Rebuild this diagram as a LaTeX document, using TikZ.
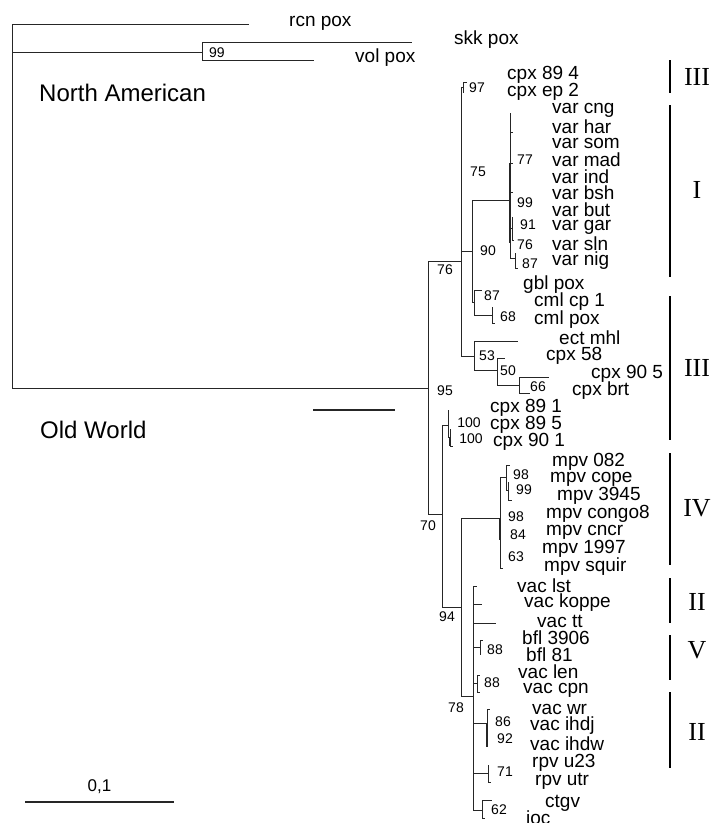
\documentclass[tikz,border=0pt]{standalone}
\usepackage{fontspec}
\setmainfont{Liberation Sans}
\newfontfamily\romanfont{Liberation Serif}
\usetikzlibrary{positioning}
\tikzset{
  br/.style={draw=black!85, line width=0.8pt},
  brthick/.style={br, line width=1.8pt},
  leaf/.style={anchor=west, inner sep=0pt, font=\fontsize{19}{19}\selectfont},
  bs/.style={inner sep=0pt, font=\fontsize{14}{14}\selectfont},
  region/.style={anchor=west, inner sep=0pt, font=\fontsize{24}{24}\selectfont},
  cladebar/.style={draw=black, line width=2.6pt},
  roman/.style={inner sep=0pt, font=\romanfont\fontsize{26}{26}\selectfont},
}

\begin{document}
\begin{tikzpicture}[x=1pt, y=-1pt]
  \useasboundingbox (0,0) rectangle (713,823);
  % inner nodes of the tree
  \foreach \n/\x/\y in {root/12/200, na/202/52, n95/428/388, n76/461/261,
      n97/463/87, n90/472/251, var/510/200, v91/512/228, v87/515/258,
      n87/474/302, n68/492/315, n53/474/356, n50/497/370, n66/519/385,
      n70/442/514, nA/448/425, nB/450/437, n94/461/607, mpv/500/518,
      mU/506/477, mU2/508/490, n78/473/696, bfl/480/647, len/477/683,
      wr/487/723, rpv/488/773, ctg/482/810}
    \coordinate (\n) at (\x,\y);
  % tips
  \foreach \n/\x/\y in {rcn/249/24, skk/412/42, vol/314/60,
      c894/467/82, cep2/464/92,
      vt1/510/113, vt2/513/132, vt3/513/163, vt4/513/192, vth/510/243,
      vt5/512/217, vt6/514/240, vt7/515/253, vt8/518/268,
      gbl/482/290, cml1/492/307, cml2/495/323,
      ect/518/341, c58/505/358, c905/549/377, brt/530/393,
      c891/448/410, c895/450/429, c901/453/446,
      m082/510/465, mcope/508/482, m3945/512/500, mth/500/540, msq/503/568,
      lst/477/586, kop/482/604, tt/496/623,
      b3906/483/640, b81/480/655, vlen/480/675, vcpn/480/692,
      vwr/490/709, vihdw/487/747, u23/488/765, utr/491/782,
      ctgv/492/800, joc/485/818}
    \coordinate (\n) at (\x,\y);

  \foreach \a/\b in {root/rcn, root/na, root/n95, na/skk, na/vol,
      n95/n76, n95/n70, n76/n97, n76/n90, n76/n53, n97/c894, n97/cep2,
      n90/var, n90/n87, var/vt1, var/vt2, var/vt3, var/vt4, var/v91, var/v87,
      v91/vt5, v91/vt6, v87/vt7, v87/vt8,
      n87/gbl, n87/n68, n68/cml1, n68/cml2,
      n53/ect, n53/n50, n50/c58, n50/n66, n66/c905, n66/brt,
      n70/nA, n70/n94, nA/c891, nA/nB, nB/c895, nB/c901,
      n94/mpv, n94/n78, mpv/mU, mpv/msq, mU/m082, mU/mU2, mU2/mcope, mU2/m3945,
      n78/lst, n78/kop, n78/tt, n78/bfl, n78/len, n78/wr, n78/rpv, n78/ctg,
      bfl/b3906, bfl/b81, len/vlen, len/vcpn, wr/vwr, wr/vihdw,
      rpv/u23, rpv/utr, ctg/ctgv, ctg/joc}
    \draw[br] (\a) |- (\b);
  \foreach \a/\b in {var/vt3, var/vth, nB/c901, mpv/mth, wr/vihdw}
    \draw[brthick] (\a) -- (\a |- \b);

  % taxa
  \foreach [count=\i] \t/\x/\y in {rcn pox/289/23, skk pox/454/40, vol pox/355/58,
      cpx 89 4/507/75, cpx ep 2/507/92,
      var cng/552/110, var har/552/127, var som/552/143, var mad/552/160,
      var ind/552/177, var bsh/552/193, var but/552/210, var gar/552/227,
      var sln/552/244, var nig/552/261,
      gbl pox/523/285, cml cp 1/534/302, cml pox/534/320, ect mhl/559/338,
      cpx 58/546/356, cpx 90 5/591/374, cpx brt/572/391,
      cpx 89 1/490/408, cpx 89 5/490/425, cpx 90 1/493/442,
      mpv 082/552/462, mpv cope/550/479, mpv 3945/557/496, mpv congo8/546/514,
      mpv cncr/546/532, mpv 1997/542/549, mpv squir/544/567,
      vac lst/517/586, vac koppe/524/603, vac tt/537/621,
      bfl 3906/522/638, bfl 81/526/655, vac len/518/672, vac cpn/523/690,
      vac wr/532/709, vac ihdj/530/726, vac ihdw/530/744,
      rpv u23/532/763, rpv utr/535/781, ctgv/545/803, joc/526/820}
    \node[leaf] (tx\i) at (\x,\y) {\t};

  % bootstrap values
  \foreach [count=\i] \t/\x/\y in {99/217/53, 97/477/88, 75/478/172, 77/525/160,
      99/525/203, 91/528/225, 76/525/245, 87/530/264, 90/488/251, 76/445/270,
      87/492/296, 68/508/317, 53/487/356, 50/508/371, 66/538/387, 95/445/391,
      100/469/423, 100/471/439, 70/428/526,
      98/521/475, 99/524/490, 98/516/517, 84/518/535, 63/516/557,
      94/447/617, 88/495/650, 88/492/683, 78/456/708, 86/503/722, 92/505/739,
      71/505/772, 62/499/810}
    \node[bs] (bs\i) at (\x,\y) {\t};

  \node[region] (north) at (39,93) {North American};
  \node[region] (old) at (40,430) {Old World};

  % scale bars
  \coordinate (sa1) at (313,410);
  \coordinate (sb1) at (395,410);
  \draw[br, line width=1.2pt] (sa1) -- (sb1);
  \coordinate (sa2) at (25,802);
  \coordinate (sb2) at (174,802);
  \coordinate (sm2) at (99.5,802);
  \draw[br, line width=1.2pt] (sa2) -- (sb2);
  \node[leaf, anchor=south, font=\fontsize{17}{17}\selectfont, above=8pt of sm2] (unit) {0,1};

  % groups
  \foreach [count=\i] \t/\a/\b/\m in {III/60/93/77, I/105/277/190, III/296/440/368,
      IV/453/565/508, II/578/623/602, V/635/680/650, II/692/768/732} {
    \coordinate (gt\i) at (670,\a);
    \coordinate (gb\i) at (670,\b);
    \draw[cladebar] (gt\i) -- (gb\i);
    \node[roman] (gl\i) at (697,\m) {\t};
  }
\end{tikzpicture}
\end{document}
